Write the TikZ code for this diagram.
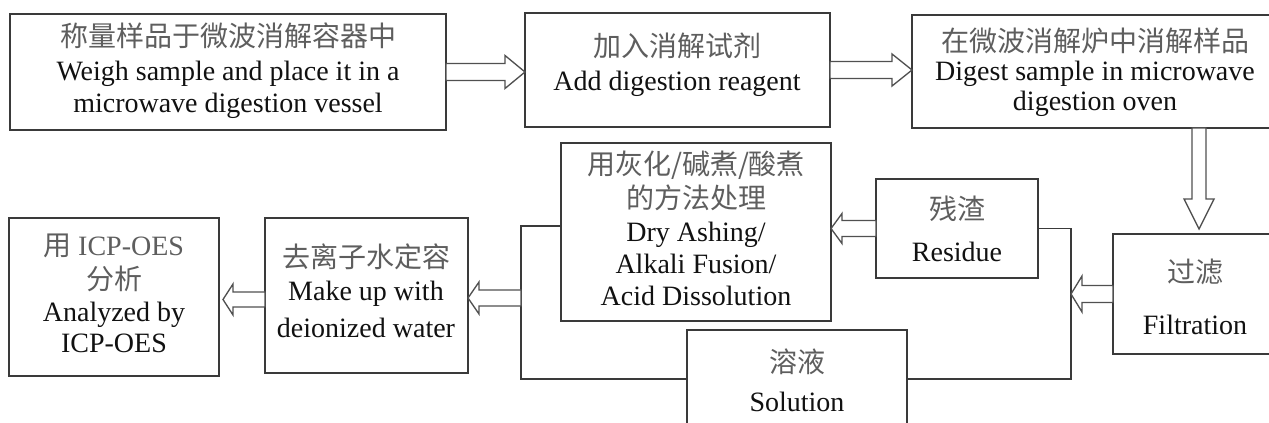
\documentclass[tikz,border=0pt]{standalone}
\usepackage{fontspec}
\setmainfont{Liberation Serif}
\newfontfamily\cjk{Noto Sans CJK SC}
\usetikzlibrary{calc,fit}
\definecolor{lncol}{HTML}{3A3A3A}
\definecolor{arcol}{HTML}{505050}
\definecolor{zhcol}{HTML}{5E5E5E}
\definecolor{encol}{HTML}{111111}
% horizontal block arrow: #1 tail centre, #2 tip, #3 signed head length, #4 half head, #5 half shaft
\newcommand\harr[5]{\draw[blk] (#2) -- ($(#2)+(#3,#4)$) -- ($(#2)+(#3,#5)$) -- ($(#1)+(0,#5)$) -- ($(#1)+(0,-#5)$) -- ($(#2)+(#3,-#5)$) -- ($(#2)+(#3,-#4)$) -- cycle;}
% vertical block arrow
\newcommand\varr[5]{\draw[blk] (#2) -- ($(#2)+(#4,#3)$) -- ($(#2)+(#5,#3)$) -- ($(#1)+(#5,0)$) -- ($(#1)+(-#5,0)$) -- ($(#2)+(-#5,#3)$) -- ($(#2)+(-#4,#3)$) -- cycle;}
\begin{document}
\begin{tikzpicture}[x=0.75pt,y=-0.75pt,
  box/.style={draw=lncol, line width=1pt, inner sep=0pt, outer sep=0pt},
  ln/.style={draw=lncol, line width=1pt},
  blk/.style={draw=arcol, line width=1pt, fill=white, line join=miter},
  en/.style={anchor=base, text=encol, font=\fontsize{21}{25}\selectfont, inner sep=0pt},
  zh/.style={anchor=base, text=zhcol, font=\fontsize{21}{25}\selectfont\cjk, inner sep=0pt}]
\useasboundingbox (0,0) rectangle (1269,423);
\clip (0,0) rectangle (1269,423);
\fill[white] (0,0) rectangle (1269,423);
% boxes
\node[box, fit={(10,14) (446,130)}] (b1) {};
\node[box, fit={(525,13) (830,127)}] (b2) {};
\node[box, fit={(912,15) (1280,128)}] (b3) {};
\node[box, fit={(561,143) (831,321)}] (meth) {};
\node[box, fit={(876,179) (1038,278)}] (res) {};
\node[box, fit={(1113,234) (1280,354)}] (fil) {};
\node[box, fit={(687,330) (907,440)}] (sol) {};
\node[box, fit={(9,218) (219,376)}] (icp) {};
\node[box, fit={(265,218) (468,373)}] (mk) {};
% texts
\node[zh] (t1a) at (228,47) {称量样品于微波消解容器中};
\node[en] (t1b) at (228,81) {Weigh sample and place it in a};
\node[en] (t1c) at (228,113) {microwave digestion vessel};
\node[zh] (t2a) at (677,57) {加入消解试剂};
\node[en] (t2b) at (677,91) {Add digestion reagent};
\node[zh] (t3a) at (1095,52) {在微波消解炉中消解样品};
\node[en] (t3b) at (1095,81) {Digest sample in microwave};
\node[en] (t3c) at (1095,111) {digestion oven};
\node[zh] (tma) at (696,175) {用灰化/碱煮/酸煮};
\node[zh] (tmb) at (696,209) {的方法处理};
\node[en] (tmc) at (696,242) {Dry Ashing/};
\node[en] (tmd) at (696,274) {Alkali Fusion/};
\node[en] (tme) at (696,306) {Acid Dissolution};
\node[zh] (tra) at (957,220) {残渣};
\node[en] (trb) at (957,262) {Residue};
\node[zh] (tfa) at (1195,283) {过滤};
\node[en] (tfb) at (1195,335) {Filtration};
\node[zh] (tsa) at (797,373) {溶液};
\node[en] (tsb) at (797,411) {Solution};
\node[zh] (tia) at (114,256) {用 {\rmfamily ICP-OES}};
\node[zh] (tib) at (114,290) {分析};
\node[en] (tic) at (114,322) {Analyzed by};
\node[en] (tid) at (114,353) {ICP-OES};
\node[zh] (tka) at (366,268) {去离子水定容};
\node[en] (tkb) at (366,301) {Make up with};
\node[en] (tkc) at (366,338) {deionized water};
% connector lines
\coordinate (cR) at (1071,379);
\coordinate (cL) at (521,379);
\coordinate (cLt) at (521,226);
\coordinate (a6) at (521,298);
\coordinate (dx) at (1199,0);
\draw[ln] (res.east) -| (cR) -- (cR -| sol.east);
\draw[ln] (cL -| sol.west) -- (cL) -- (cLt) -- (cLt -| meth.west);
% block arrows
\harr{b1.east}{b1.east -| b2.west}{-20}{16.5}{8.5}
\harr{b2.east}{b2.east -| b3.west}{-20}{16}{8.5}
\varr{dx |- b3.south}{$(dx |- fil.north)+(0,-5)$}{-30}{15}{7}
\harr{fil.west}{fil.west -| cR}{11}{18}{8.5}
\harr{res.west}{res.west -| meth.east}{11}{15}{8}
\harr{a6}{a6 -| mk.east}{11}{16}{8}
\harr{$(mk.west)+(0,4)$}{$(mk.west -| icp.east)+(4,4)$}{10}{15.5}{7.5}
\end{tikzpicture}
\end{document}
